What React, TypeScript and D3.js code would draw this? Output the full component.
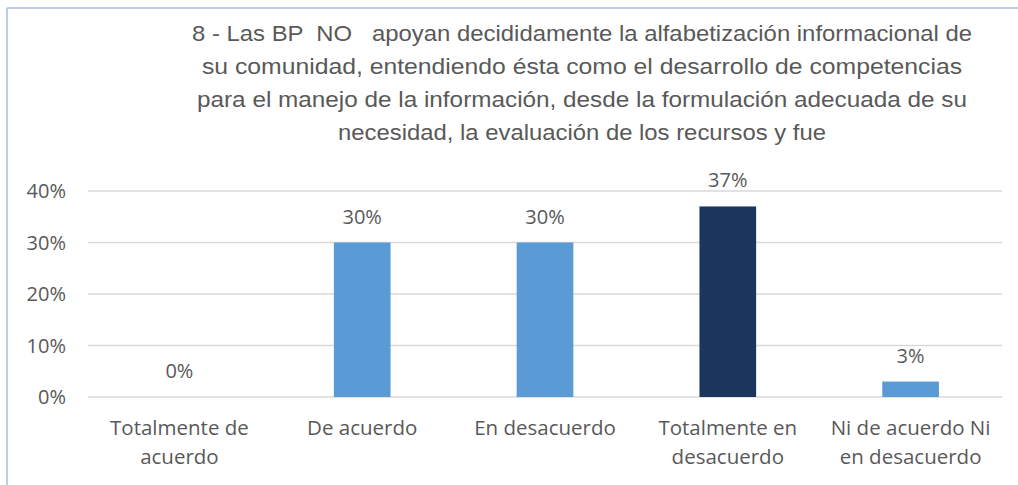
import React from "react";
import * as d3 from "d3";

const categories = [
  ["Totalmente de", "acuerdo"],
  ["De acuerdo"],
  ["En desacuerdo"],
  ["Totalmente en", "desacuerdo"],
  ["Ni de acuerdo Ni", "en desacuerdo"],
];
const values = [0, 30, 30, 37, 3];
const labels = ["0%", "30%", "30%", "37%", "3%"];
const barColors = ["#5B9BD5", "#5B9BD5", "#5B9BD5", "#1A365D", "#5B9BD5"];
const yTicks = [0, 10, 20, 30, 40];
const titleLines = [
  "8 - Las BP  NO   apoyan decididamente la alfabetización informacional de",
  "su comunidad, entendiendo ésta como el desarrollo de competencias",
  "para el manejo de la información, desde la formulación adecuada de su",
  "necesidad, la evaluación de los recursos y fue",
];
const titleWidths = [780, 760, 770, 488];

export default function App() {
  const W = 1018, H = 485;
  const x = d3.scaleBand<number>().domain(d3.range(values.length)).range([88, 1002]).paddingInner(0.69).paddingOuter(0.345);
  const y = d3.scaleLinear().domain([0, 40]).range([397, 191]);
  const font = "'Open Sans', sans-serif";
  const grey = "#595959";
  return (
    <svg width={W} height={H} style={{ position: "absolute", left: 0, top: 0, background: "#fff" }}>
      <rect x={0} y={0} width={W} height={H} fill="#fff" />
      <line x1={7} y1={8} x2={W} y2={8} stroke="#A6BFDD" strokeWidth={1.5} />
      <line x1={7} y1={8} x2={7} y2={H} stroke="#A6BFDD" strokeWidth={1.5} />
      {titleLines.map((t, i) => (
        <text key={i} x={582} y={41 + i * 33} textAnchor="middle" fontFamily="'Liberation Sans', sans-serif" fontSize={22} fill={grey}
          style={{ whiteSpace: "pre" }} textLength={titleWidths[i]} lengthAdjust="spacingAndGlyphs">{t}</text>
      ))}
      {yTicks.map((t) => (
        <g key={t}>
          <line x1={88} x2={1002} y1={y(t)} y2={y(t)} stroke="#D9D9D9" strokeWidth={1.3} />
          <text x={66} y={y(t) + 7} textAnchor="end" fontFamily={font} fontSize={20} fill={grey}>{t}%</text>
        </g>
      ))}
      {values.map((v, i) => (
        <g key={i}>
          {v > 0 && <rect x={x(i)} y={y(v)} width={x.bandwidth()} height={y(0) - y(v)} fill={barColors[i]} />}
          <text x={(x(i) as number) + x.bandwidth() / 2} y={y(v) - 19} textAnchor="middle" fontFamily={font} fontSize={20} fill={grey}>{labels[i]}</text>
          {categories[i].map((l, j) => (
            <text key={j} x={(x(i) as number) + x.bandwidth() / 2} y={435 + j * 29} textAnchor="middle" fontFamily={font} fontSize={20.5} fill={grey}>{l}</text>
          ))}
        </g>
      ))}
    </svg>
  );
}
